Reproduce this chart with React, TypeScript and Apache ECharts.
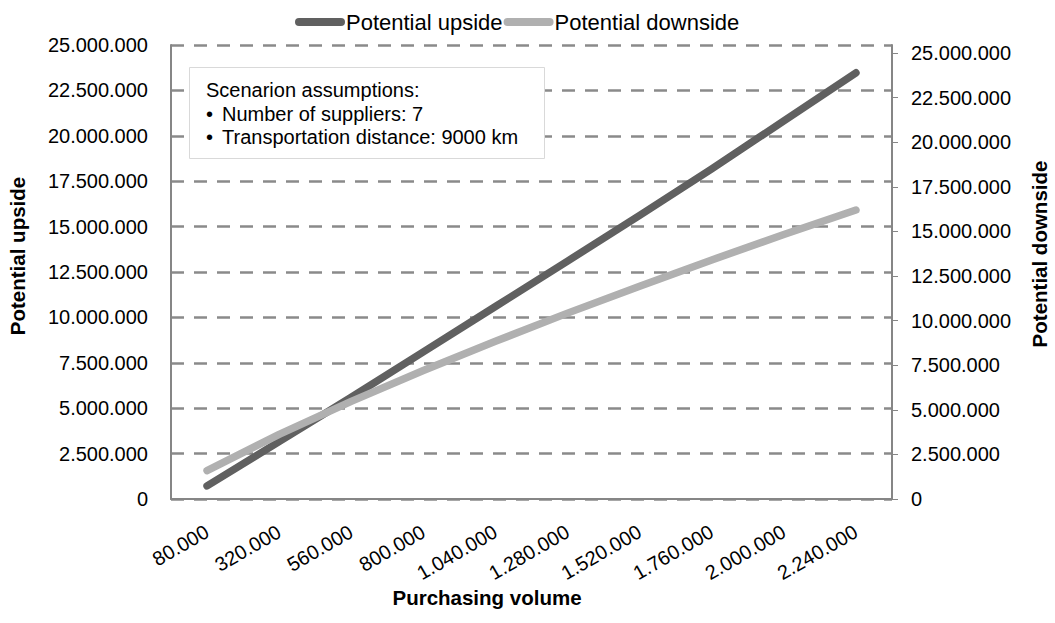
import React, { useEffect, useRef } from "react";
import * as echarts from "echarts";

const categories = [
  "80.000",
  "320.000",
  "560.000",
  "800.000",
  "1.040.000",
  "1.280.000",
  "1.520.000",
  "1.760.000",
  "2.000.000",
  "2.240.000",
];
const upside = [720000, 3160000, 5600000, 8100000, 10600000, 13100000, 15620000, 18180000, 20820000, 23470000];
const downside = [1590000, 3620000, 5470000, 7200000, 8840000, 10420000, 11930000, 13400000, 14830000, 16200000];
const leftTicks = [0, 2500000, 5000000, 7500000, 10000000, 12500000, 15000000, 17500000, 20000000, 22500000, 25000000];
const rightTicks = [0, 2500000, 5000000, 7500000, 10000000, 12500000, 15000000, 17500000, 20000000, 22500000, 25000000];
const assumptions = ["Number of suppliers: 7", "Transportation distance: 9000 km"];

const FONT = "'Liberation Sans', Arial, sans-serif";
const fmt = (v: number) => String(Math.round(v)).replace(/\B(?=(\d{3})+(?!\d))/g, ".");

export default function App() {
  const ref = useRef<HTMLDivElement>(null);
  useEffect(() => {
    if (!ref.current) return;
    const chart = echarts.init(ref.current, null, { renderer: "svg" });
    const axisColor = "#868686";
    const option: any = {
      animation: false,
      backgroundColor: "#ffffff",
      textStyle: { fontFamily: FONT },
      legend: {
        left: 290,
        top: 6,
        itemWidth: 50,
        itemHeight: 8,
        itemGap: 1,
        icon: "path://M4,0 H46 A4,4 0 0 1 46,8 H4 A4,4 0 0 1 4,0 Z",
        textStyle: { fontSize: 22, color: "#000", fontFamily: FONT, padding: [0, 0, 0, -4] },
        data: ["Potential upside", "Potential downside"],
      },
      grid: { left: 171, right: 163, top: 45, bottom: 124, containLabel: false },
      xAxis: {
        type: "category",
        data: categories,
        boundaryGap: true,
        axisLine: { show: true, lineStyle: { color: axisColor, width: 2 } },
        axisTick: { show: false },
        axisLabel: {
          rotate: 30,
          margin: 31,
          fontSize: 20,
          color: "#000",
          fontFamily: FONT,
          interval: 0,
        },
      },
      yAxis: [
        {
          type: "value",
          min: 0,
          max: 25000000,
          interval: 2500000,
          position: "left",
          axisLine: { show: true, lineStyle: { color: axisColor, width: 2 } },
          axisTick: { show: false },
          axisLabel: {
            fontSize: 20,
            color: "#000",
            margin: 23,
            fontFamily: FONT,
            customValues: leftTicks,
            formatter: (v: number) => fmt(v),
          },
          splitLine: {
            show: true,
            lineStyle: { color: "#8a8a8a", width: 2.5, type: [13, 10] },
          },
        },
        {
          type: "value",
          min: 0,
          max: 25450000,
          interval: 2500000,
          position: "right",
          axisLine: { show: true, lineStyle: { color: axisColor, width: 2 } },
          axisTick: {
            show: true,
            inside: false,
            length: 6,
            lineStyle: { color: axisColor, width: 1 },
            customValues: rightTicks,
          },
          axisLabel: {
            fontSize: 20,
            color: "#000",
            margin: 19,
            fontFamily: FONT,
            customValues: rightTicks,
            formatter: (v: number) => (v % 2500000 === 0 ? fmt(v) : ""),
          },
          splitLine: { show: false },
        },
      ],
      series: [
        {
          name: "Potential upside",
          type: "line",
          data: upside,
          yAxisIndex: 0,
          symbol: "none",
          color: "#606060",
          lineStyle: { color: "#606060", width: 7.5, cap: "round", join: "round" },
          z: 3,
        },
        {
          name: "Potential downside",
          type: "line",
          data: downside,
          yAxisIndex: 1,
          symbol: "none",
          color: "#b0b0b0",
          lineStyle: { color: "#b0b0b0", width: 7.5, cap: "round", join: "round" },
          z: 4,
        },
      ],
      graphic: [
        {
          type: "rect",
          z: 100,
          shape: { x: 189.5, y: 67.5, width: 355, height: 91 },
          style: { fill: "#ffffff", stroke: "#d9d9d9", lineWidth: 1 },
        },
        {
          type: "text",
          z: 101,
          x: 206,
          y: 90,
          style: { text: "Scenarion assumptions:", font: `20px ${FONT}`, fill: "#000", verticalAlign: "middle" },
        },
        ...assumptions.flatMap((t, i) => [
          {
            type: "text",
            z: 101,
            x: 206,
            y: 113.5 + i * 23.7,
            style: { text: "•", font: `20px ${FONT}`, fill: "#000", verticalAlign: "middle" },
          },
          {
            type: "text",
            z: 101,
            x: 222,
            y: 113.5 + i * 23.7,
            style: { text: t, font: `20px ${FONT}`, fill: "#000", verticalAlign: "middle" },
          },
        ]),
        {
          type: "text",
          x: 17.5,
          y: 256,
          rotation: Math.PI / 2,
          style: {
            text: "Potential upside",
            font: `bold 20.5px ${FONT}`,
            fill: "#000",
            align: "center",
            verticalAlign: "middle",
          },
        },
        {
          type: "text",
          x: 1039,
          y: 254,
          rotation: Math.PI / 2,
          style: {
            text: "Potential downside",
            font: `bold 20.5px ${FONT}`,
            fill: "#000",
            align: "center",
            verticalAlign: "middle",
          },
        },
        {
          type: "text",
          x: 487,
          y: 597,
          style: {
            text: "Purchasing volume",
            font: `bold 20.5px ${FONT}`,
            fill: "#000",
            align: "center",
            verticalAlign: "middle",
          },
        },
      ],
    };
    chart.setOption(option);
    return () => chart.dispose();
  }, []);
  return <div ref={ref} style={{ position: "absolute", left: 0, top: 0, width: 1055, height: 623 }} />;
}
